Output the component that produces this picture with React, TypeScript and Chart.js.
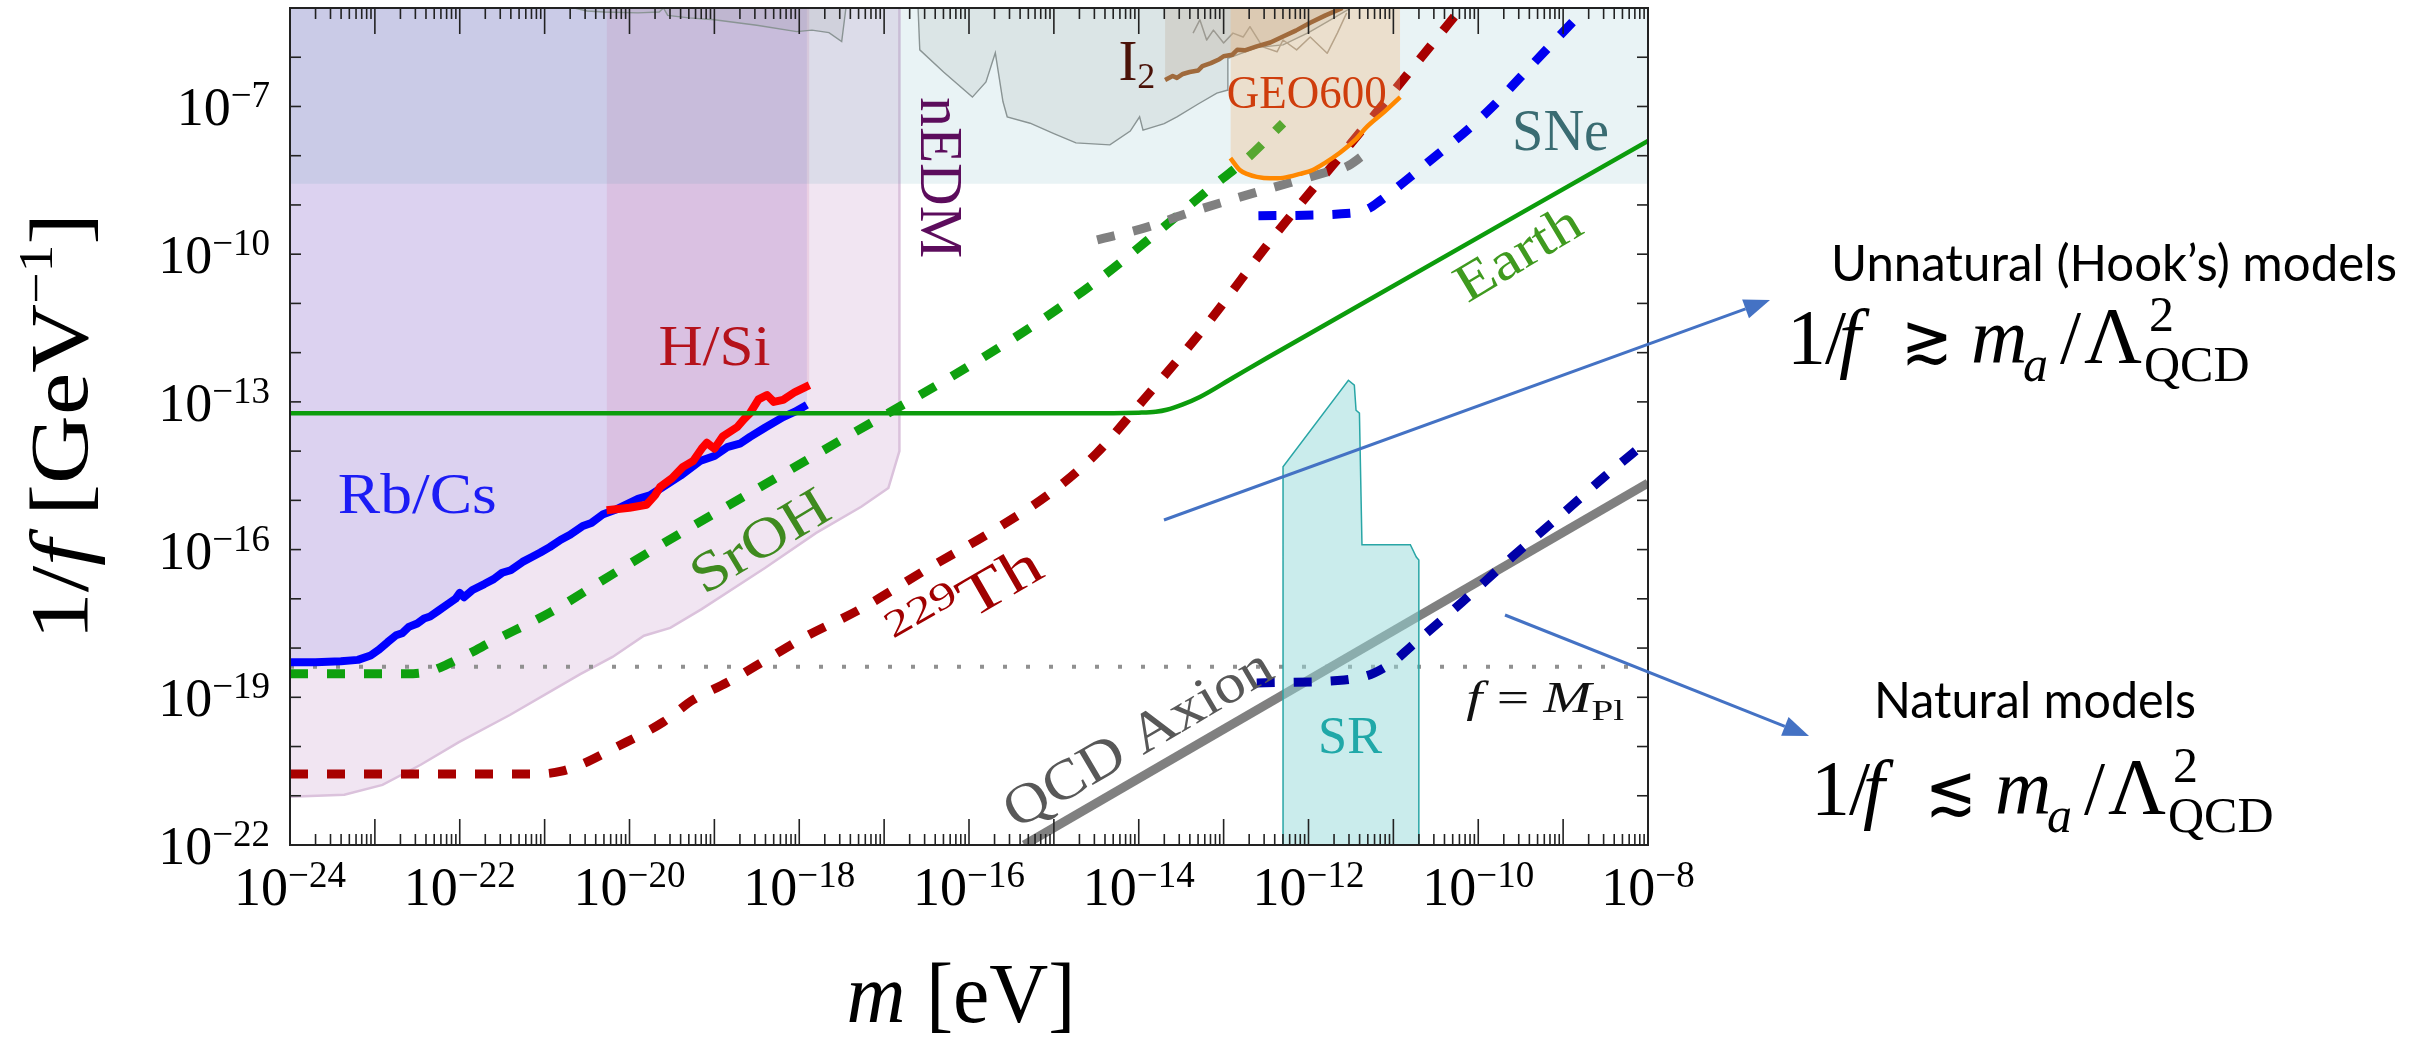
import React, { useEffect, useRef } from "react";
import { Chart, registerables } from "chart.js";

Chart.register(...registerables);

const W = 2418;
const H = 1043;
const SERIF = "'Liberation Serif', 'DejaVu Serif', serif";
const SANS = "Lato, 'Open Sans', sans-serif";

type P = [number, number]; // [log10 m/eV, log10 (1/f)/GeV^-1]

// ---------- axes ----------
const X_RANGE: P = [-24, -8];
const Y_RANGE: P = [-22, -5];
const X_TICK_LABELS = [-24, -22, -20, -18, -16, -14, -12, -10, -8];
const Y_TICK_LABELS = [-22, -19, -16, -13, -10, -7];

// ---------- data (log10 values) ----------
const NEDM_REGION: P[] = [
  [-24, -21.02], [-23.36, -20.98], [-22.91, -20.78], [-22.46, -20.37], [-22.01, -19.91],
  [-21.41, -19.36], [-20.9, -18.85], [-20.58, -18.53], [-20.2, -18.18], [-19.83, -17.75],
  [-19.52, -17.59], [-19.15, -17.21], [-18.4, -16.37], [-17.8, -15.66], [-17.27, -15.13],
  [-16.95, -14.75], [-16.82, -14.0], [-16.82, -5],
];
const RBCS_LINE: P[] = [
  [-24.0, -18.29], [-23.7, -18.29], [-23.4, -18.27], [-23.2, -18.24], [-23.05, -18.15],
  [-22.95, -18.03], [-22.85, -17.88], [-22.75, -17.74], [-22.68, -17.7], [-22.6, -17.57],
  [-22.5, -17.5], [-22.42, -17.4], [-22.35, -17.36], [-22.25, -17.24], [-22.16, -17.13],
  [-22.05, -17.0], [-22.0, -16.88], [-21.95, -16.97], [-21.85, -16.82], [-21.71, -16.7],
  [-21.6, -16.6], [-21.5, -16.47], [-21.4, -16.42], [-21.26, -16.25], [-21.15, -16.15],
  [-21.05, -16.06], [-20.94, -15.95], [-20.81, -15.8], [-20.7, -15.7], [-20.55, -15.52],
  [-20.45, -15.46], [-20.31, -15.28], [-20.15, -15.18], [-19.9, -14.97], [-19.76, -14.9],
  [-19.6, -14.72], [-19.4, -14.5], [-19.17, -14.2], [-19.0, -14.1], [-18.85, -13.92],
  [-18.7, -13.85], [-18.58, -13.71], [-18.4, -13.52], [-18.19, -13.31], [-18.05, -13.2],
  [-17.91, -13.06],
];
const HSI_LINE: P[] = [
  [-20.27, -15.2], [-20.0, -15.15], [-19.8, -15.09], [-19.7, -14.9], [-19.64, -14.73],
  [-19.5, -14.55], [-19.37, -14.32], [-19.25, -14.2], [-19.15, -13.95], [-19.09, -13.83],
  [-19.0, -13.95], [-18.9, -13.7], [-18.73, -13.51], [-18.65, -13.35], [-18.58, -13.23],
  [-18.48, -12.95], [-18.38, -12.86], [-18.3, -13.0], [-18.19, -12.96], [-18.05, -12.8],
  [-17.88, -12.66],
];
const SNE_BAND: P[] = [[-24, -8.57], [-8, -8.57]];
const GRAY_LEFT: P[] = [
  [-20.65, -5.0], [-20.5, -5.06], [-20.3, -5.08], [-19.9, -5.1], [-19.65, -5.08], [-19.6, -5.0],
  [-19.55, -5.15], [-19.3, -5.2], [-19.0, -5.24], [-18.5, -5.35], [-18.03, -5.48],
  [-17.85, -5.45], [-17.65, -5.5], [-17.5, -5.68], [-17.45, -5.0],
];
const GRAY_RIGHT: P[] = [
  [-16.6, -5.0], [-16.58, -5.85], [-16.3, -6.3], [-15.96, -6.81], [-15.8, -6.5], [-15.69, -5.91],
  [-15.6, -6.9], [-15.55, -7.21], [-15.28, -7.34], [-15.0, -7.55], [-14.74, -7.74],
  [-14.34, -7.78], [-14.1, -7.5], [-13.99, -7.21], [-13.95, -7.48], [-13.7, -7.35],
  [-13.55, -7.21], [-13.3, -6.95], [-13.08, -6.73], [-12.96, -6.67], [-12.95, -6.02],
  [-12.6, -5.8], [-12.3, -5.75], [-12.0, -5.5], [-11.7, -5.2], [-11.5, -5.0],
];
const GRAY_NOISE: P[] = [
  [-13.36, -5.51], [-13.28, -5.24], [-13.2, -5.65], [-13.12, -5.45], [-13.0, -5.71],
  [-12.89, -5.51], [-12.77, -5.59], [-12.69, -5.38], [-12.54, -5.79], [-12.37, -5.89],
  [-12.3, -5.65], [-12.14, -5.85], [-11.98, -5.59], [-11.78, -5.92], [-11.66, -5.51],
  [-11.55, -5.1],
];
const I2_LINE: P[] = [
  [-13.69, -6.46], [-13.6, -6.38], [-13.55, -6.42], [-13.48, -6.34], [-13.4, -6.3],
  [-13.3, -6.27], [-13.25, -6.18], [-13.15, -6.12], [-13.05, -6.04], [-13.0, -5.98],
  [-12.9, -5.95], [-12.84, -5.85], [-12.75, -5.86], [-12.61, -5.78], [-12.45, -5.7],
  [-12.3, -5.58], [-12.15, -5.46], [-11.98, -5.3], [-11.8, -5.15], [-11.6, -5.0],
];
const GEO_LINE: P[] = [
  [-12.92, -8.05], [-12.81, -8.29], [-12.71, -8.38], [-12.61, -8.43], [-12.45, -8.46],
  [-12.3, -8.45], [-12.1, -8.37], [-11.95, -8.29], [-11.8, -8.14], [-11.63, -7.94],
  [-11.45, -7.68], [-11.31, -7.41], [-11.1, -7.1], [-10.92, -6.81],
];
const SR_REGION: P[] = [
  [-12.3, -22], [-12.3, -14.32], [-11.53, -12.56], [-11.46, -12.66], [-11.44, -13.17],
  [-11.4, -13.23], [-11.37, -15.9], [-10.8, -15.9], [-10.73, -16.15], [-10.7, -16.21],
  [-10.7, -22],
];
const EARTH_LINE: P[] = [
  [-24, -13.23], [-14.3, -13.23], [-14.0, -13.22], [-13.8, -13.2], [-13.67, -13.16],
  [-13.48, -13.05], [-13.28, -12.9], [-12.89, -12.51], [-12.49, -12.11], [-8, -7.7],
];
const SROH_LINE: P[] = [
  [-24, -18.52], [-22.55, -18.52], [-22.35, -18.47], [-22.16, -18.34], [-21.9, -18.12],
  [-21.6, -17.85], [-20.94, -17.28], [-20.2, -16.5], [-19.45, -15.72], [-18.58, -14.85],
  [-17.4, -13.67], [-16.22, -12.5], [-15.27, -11.48], [-14.5, -10.55], [-13.75, -9.51],
  [-13.2, -8.72], [-12.72, -8.05], [-12.3, -7.34],
];
const TH229_LINE: P[] = [
  [-24, -20.56], [-21.1, -20.56], [-20.8, -20.5], [-20.55, -20.35], [-20.2, -20.05],
  [-19.6, -19.5], [-19.25, -19.05], [-18.85, -18.7], [-18.4, -18.25], [-17.96, -17.8],
  [-17.27, -17.2], [-16.5, -16.4], [-15.7, -15.6], [-15.0, -14.8], [-14.5, -14.05],
  [-14.04, -13.15], [-13.25, -11.54], [-12.38, -9.58], [-11.5, -7.75], [-10.34, -5.3],
  [-10.2, -5.0],
];
const GRAY_DASH: P[] = [
  [-14.49, -9.71], [-13.9, -9.45], [-13.48, -9.2], [-13.04, -8.96], [-12.65, -8.76],
  [-12.22, -8.55], [-11.78, -8.33], [-11.55, -8.22], [-11.36, -8.0],
];
const BLUE_DASH: P[] = [
  [-12.59, -9.22], [-11.51, -9.17], [-11.3, -9.08], [-11.16, -8.92], [-10.8, -8.43],
  [-10.49, -7.99], [-10.13, -7.48], [-9.83, -7.0], [-9.5, -6.4], [-9.2, -5.85],
  [-8.79, -5.1], [-8.74, -5.0],
];
const DARKBLUE_DASH: P[] = [
  [-12.61, -18.71], [-11.58, -18.65], [-11.4, -18.6], [-11.23, -18.51], [-11.0, -18.28],
  [-10.8, -17.98], [-10.2, -17.08], [-9.6, -16.15], [-9.0, -15.26], [-8.5, -14.5],
  [-8.03, -13.83],
];
const AXION_LINE: P[] = [[-15.35, -22], [-8, -14.65]];
const MPL_LINE: P[] = [[-24, -18.38], [-8, -18.38]];

// ---------- helpers ----------
const pts = (a: P[]) => a.map(([m, f]) => ({ x: Math.pow(10, m), y: Math.pow(10, f) }));
const toTop = (a: P[]): P[] => [...a, [a[a.length - 1][0], Y_RANGE[1]]];
const CLEAR = "rgba(0,0,0,0)";
const DASH = [18, 19];

function region(data: P[], bg: string, fill: string, border = CLEAR, bw = 1) {
  return {
    data: pts(data), fill, backgroundColor: bg, borderColor: border, borderWidth: bw,
    pointRadius: 0, tension: 0,
  };
}
function curve(data: P[], color: string, width: number, dash: number[] = [], smooth = true) {
  return {
    data: pts(data), fill: false, borderColor: color, borderWidth: width, borderDash: dash,
    borderCapStyle: "butt", borderJoinStyle: "round", pointRadius: 0,
    cubicInterpolationMode: smooth ? "monotone" : "default", tension: 0,
  };
}

type Run = { t: string; size: number; it?: boolean; dy?: number; fam?: string };
const fontOf = (r: Run) => `${r.it ? "italic " : ""}${r.size}px ${r.fam || SERIF}`;

function drawRuns(
  ctx: CanvasRenderingContext2D, runs: Run[], x: number, y: number,
  o: { color: string; align?: string; angle?: number; w?: number; mid?: boolean }
) {
  ctx.save();
  ctx.translate(x, y);
  if (o.angle) ctx.rotate((o.angle * Math.PI) / 180);
  ctx.fillStyle = o.color;
  ctx.textAlign = "left";
  ctx.textBaseline = "alphabetic";
  const widths = runs.map((r) => { ctx.font = fontOf(r); return ctx.measureText(r.t).width; });
  const total = widths.reduce((a, b) => a + b, 0);
  if (o.w) ctx.scale(o.w / total, 1);
  const align = o.align || "center";
  let cx = align === "center" ? -total / 2 : align === "right" ? -total : 0;
  const maxSize = Math.max(...runs.map((r) => r.size));
  const shift = o.mid ? 0.34 * maxSize : 0;
  runs.forEach((r, i) => {
    ctx.font = fontOf(r);
    ctx.fillText(r.t, cx, shift - (r.dy || 0));
    cx += widths[i];
  });
  ctx.restore();
}

function drawMath(ctx: CanvasRenderingContext2D, x0: number, y0: number, rel: string) {
  const parts: (Run & { dx: number; w?: number })[] = [
    { t: "1", dx: 0, size: 78 },
    { t: "/", dx: 38, size: 76 },
    { t: "f", dx: 52, size: 78, it: true },
    { t: rel, dx: 114, size: 70, fam: "'DejaVu Serif', serif", w: 52 },
    { t: "m", dx: 184, size: 78, it: true },
    { t: "a", dx: 236, size: 50, it: true, dy: -18 },
    { t: "/", dx: 273, size: 76 },
    { t: "\u039b", dx: 297, size: 80 },
    { t: "2", dx: 362, size: 50, dy: 32 },
    { t: "QCD", dx: 357, size: 50, dy: -18 },
  ];
  parts.forEach((p) => drawRuns(ctx, [p], x0 + p.dx, y0, { color: "#000", align: "left", w: p.w }));
}

function arrow(ctx: CanvasRenderingContext2D, x1: number, y1: number, x2: number, y2: number) {
  const a = Math.atan2(y2 - y1, x2 - x1);
  const hl = 26, hw = 10;
  ctx.save();
  ctx.strokeStyle = "#4472c4";
  ctx.fillStyle = "#4472c4";
  ctx.lineWidth = 3;
  ctx.beginPath();
  ctx.moveTo(x1, y1);
  ctx.lineTo(x2 - hl * Math.cos(a), y2 - hl * Math.sin(a));
  ctx.stroke();
  ctx.beginPath();
  ctx.moveTo(x2, y2);
  ctx.lineTo(x2 - hl * Math.cos(a) + hw * Math.sin(a), y2 - hl * Math.sin(a) - hw * Math.cos(a));
  ctx.lineTo(x2 - hl * Math.cos(a) - hw * Math.sin(a), y2 - hl * Math.sin(a) + hw * Math.cos(a));
  ctx.closePath();
  ctx.fill();
  ctx.restore();
}

const LABELS: { at: P; runs: Run[]; color: string; w?: number; angle?: number; mid?: boolean; align?: string }[] = [
  { at: [-22.5, -15.256], runs: [{ t: "Rb/Cs", size: 56 }], color: "#1c1cf5", w: 159 },
  { at: [-19.0, -12.25], runs: [{ t: "H/Si", size: 56 }], color: "#b5121b", w: 112 },
  { at: [-18.47, -15.8], runs: [{ t: "SrOH", size: 56 }], color: "#3f8a1f", w: 152, angle: -31, mid: true },
  { at: [-16.04, -17.02], runs: [{ t: "229", size: 38, dy: 22 }, { t: "Th", size: 58 }], color: "#a00000", w: 165, angle: -30, mid: true },
  { at: [-14.02, -19.8], runs: [{ t: "QCD Axion", size: 56 }], color: "#585858", w: 302, angle: -30.5, mid: true },
  { at: [-9.54, -9.96], runs: [{ t: "Earth", size: 54 }], color: "#3f9a1f", w: 138, angle: -31, mid: true },
  { at: [-16.32, -8.45], runs: [{ t: "nEDM", size: 62 }], color: "#5c0c5c", w: 161, angle: 90, mid: true },
  { at: [-14.24, -6.46], runs: [{ t: "I", size: 57 }, { t: "2", size: 36, dy: -8 }], color: "#4a1208", align: "left" },
  { at: [-12.02, -7.03], runs: [{ t: "GEO600", size: 47 }], color: "#cf3d0c", w: 160 },
  { at: [-9.03, -7.88], runs: [{ t: "SNe", size: 60 }], color: "#3a6c72", w: 97 },
  { at: [-11.51, -20.13], runs: [{ t: "SR", size: 53 }], color: "#20a8a8", w: 64 },
  {
    at: [-8.28, -19.3],
    runs: [{ t: "f", size: 44, it: true }, { t: " = ", size: 44 }, { t: "M", size: 44, it: true }, { t: "Pl", size: 30, dy: -8 }],
    color: "#111", w: 158, align: "right",
  },
];

const decor = {
  id: "decor",
  afterDraw(chart: any) {
    const ctx: CanvasRenderingContext2D = chart.ctx;
    const xs = chart.scales.x;
    const ys = chart.scales.y;
    const { left, right, top, bottom } = chart.chartArea;
    const X = (e: number) => xs.getPixelForValue(Math.pow(10, e));
    const Y = (e: number) => ys.getPixelForValue(Math.pow(10, e));

    // in-plot labels
    LABELS.forEach((l) =>
      drawRuns(ctx, l.runs, X(l.at[0]), Y(l.at[1]), { color: l.color, w: l.w, angle: l.angle, mid: l.mid, align: l.align })
    );

    // frame and ticks
    ctx.save();
    ctx.strokeStyle = "#222";
    ctx.lineWidth = 1.6;
    const seg = (a: number, b: number, c: number, d: number) => {
      ctx.beginPath(); ctx.moveTo(a, b); ctx.lineTo(c, d); ctx.stroke();
    };
    for (let e = X_RANGE[0]; e <= X_RANGE[1]; e++) {
      for (let k = 1; k <= 9; k++) {
        if (e === X_RANGE[1] && k > 1) break;
        const px = xs.getPixelForValue(k * Math.pow(10, e));
        const len = k === 1 ? 26 : 11;
        seg(px, bottom, px, bottom - len);
        seg(px, top, px, top + len);
      }
    }
    for (let e = Y_RANGE[0] + 1; e < Y_RANGE[1]; e++) {
      const py = Y(e);
      seg(left, py, left + 11, py);
      seg(right, py, right - 11, py);
    }
    ctx.lineWidth = 2;
    ctx.strokeRect(left, top, right - left, bottom - top);
    ctx.restore();

    // tick labels
    X_TICK_LABELS.forEach((e) =>
      drawRuns(ctx, [{ t: "10", size: 54 }, { t: "\u2212" + Math.abs(e), size: 37, dy: 18 }], X(e), bottom + 60, { color: "#000" })
    );
    Y_TICK_LABELS.forEach((e) =>
      drawRuns(ctx, [{ t: "10", size: 54 }, { t: "\u2212" + Math.abs(e), size: 37, dy: 18 }], left - 20, Y(e) + 19, { color: "#000", align: "right" })
    );

    // axis titles
    drawRuns(ctx, [{ t: "m", size: 84, it: true }, { t: " [eV]", size: 84 }], (left + right) / 2 - 8, bottom + 177, { color: "#000", w: 229 });
    drawRuns(
      ctx,
      [{ t: "1/", size: 82 }, { t: "f", size: 82, it: true }, { t: " [GeV", size: 82 }, { t: "\u22121", size: 48, dy: 35 }, { t: "]", size: 82 }],
      87, (top + bottom) / 2, { color: "#000", angle: -90, w: 427 }
    );

    // side annotations
    arrow(ctx, 1164, 520, 1770, 300);
    arrow(ctx, 1505, 615, 1809, 736);
    drawRuns(ctx, [{ t: "Unnatural (Hook\u2019s) models", size: 50, fam: SANS }], 1831, 281, { color: "#000", align: "left", w: 566 });
    drawRuns(ctx, [{ t: "Natural models", size: 50, fam: SANS }], 1874, 718, { color: "#000", align: "left", w: 322 });
    drawMath(ctx, 1787, 363, "\u2273");
    drawMath(ctx, 1811, 814, "\u2272");
  },
};

export default function App() {
  const ref = useRef<HTMLCanvasElement>(null);
  useEffect(() => {
    const cv = ref.current;
    if (!cv) return;
    const layers: any[] = [
      region(NEDM_REGION, "#f1e5f2", "end", "#dbc2dc", 2.5),
      region(toTop(RBCS_LINE), "#dcd2f0", "end"),
      region(toTop(HSI_LINE), "rgba(215,150,190,0.28)", "end"),
      region(SNE_BAND, "rgba(72,155,172,0.12)", "end"),
      region(GRAY_LEFT, "rgba(140,150,150,0.15)", "end", "#8a9494", 1.4),
      region(GRAY_RIGHT, "rgba(140,150,150,0.15)", "end", "#8a9494", 1.4),
      region(I2_LINE, "rgba(170,130,100,0.18)", "end"),
      curve(GRAY_NOISE, "#9c9a92", 1.5, [], false),
      curve(MPL_LINE, "#909090", 4, [4, 19], false),
      curve(RBCS_LINE, "#0000ff", 8, [], false),
      curve(HSI_LINE, "#ff0000", 8, [], false),
      curve(EARTH_LINE, "#0c9c0c", 4.5),
      curve(AXION_LINE, "#808080", 9, [], false),
      region(SR_REGION, "rgba(150,218,218,0.5)", "start", "#29a6a6", 1.5),
      curve(SROH_LINE, "#0ea00e", 9, DASH),
      curve(TH229_LINE, "#a80000", 9, DASH),
      curve(GRAY_DASH, "#808080", 9, DASH),
      curve(BLUE_DASH, "#0000f0", 9, DASH),
      curve(DARKBLUE_DASH, "#0000a8", 9, DASH),
      region(toTop(GEO_LINE), "rgba(240,185,120,0.32)", "end"),
      curve(I2_LINE, "#a06a3c", 4.5, [], false),
      curve(GEO_LINE, "#ff8800", 4.5),
    ];
    const n = layers.length;
    layers.forEach((d, i) => (d.order = n - i));
    const chart = new Chart(cv, {
      type: "line",
      data: { datasets: layers },
      options: {
        animation: false,
        responsive: false,
        devicePixelRatio: 1,
        events: [],
        layout: { padding: { left: 290, right: W - 1648, top: 8, bottom: H - 845 } },
        scales: {
          x: { type: "logarithmic", min: Math.pow(10, X_RANGE[0]), max: Math.pow(10, X_RANGE[1]), display: false },
          y: { type: "logarithmic", min: Math.pow(10, Y_RANGE[0]), max: Math.pow(10, Y_RANGE[1]), display: false },
        },
        plugins: { legend: { display: false }, tooltip: { enabled: false } },
      } as any,
      plugins: [decor],
    });
    return () => chart.destroy();
  }, []);
  return (
    <div style={{ position: "absolute", left: 0, top: 0, width: W, height: H, background: "#fff" }}>
      <canvas ref={ref} width={W} height={H} style={{ display: "block", width: W, height: H }} />
    </div>
  );
}
